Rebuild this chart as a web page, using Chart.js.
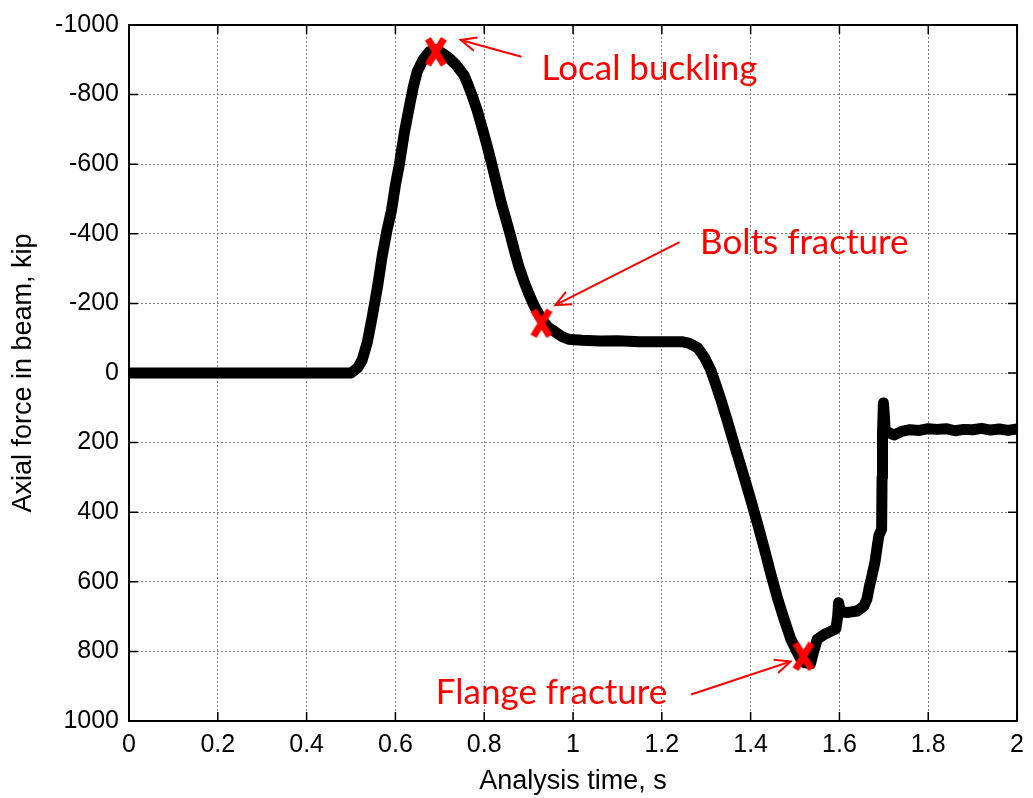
<!DOCTYPE html>
<html>
<head>
<meta charset="utf-8">
<title>Axial force in beam</title>
<script src="https://cdn.jsdelivr.net/npm/chart.js@4"></script>
<style>
  body { margin: 0; background: #fff; }
  canvas { display: block; }
</style>
</head>
<body>
<canvas id="chart" width="1033" height="798"></canvas>
<script>
// analysis time (s) and axial force (kip), compression negative
const times = [
  0, 0.5, 0.503, 0.515, 0.525, 0.537, 0.548, 0.56, 0.57, 0.581, 0.591, 0.6, 0.609, 0.62, 0.631, 0.64,
  0.649, 0.662, 0.676, 0.691, 0.705, 0.72, 0.737, 0.754, 0.763, 0.772, 0.784, 0.795, 0.806, 0.817,
  0.828, 0.839, 0.85, 0.86, 0.869, 0.878, 0.889, 0.9, 0.911, 0.922, 0.935, 0.945, 0.96, 0.975, 0.99,
  1.02, 1.06, 1.1, 1.15, 1.2, 1.245, 1.262, 1.281, 1.296, 1.31, 1.322, 1.333, 1.348, 1.364, 1.382,
  1.4, 1.416, 1.431, 1.446, 1.461, 1.476, 1.49, 1.502, 1.512, 1.523, 1.535, 1.542, 1.55, 1.565,
  1.579, 1.592, 1.596, 1.598, 1.602, 1.62, 1.64, 1.655, 1.662, 1.668, 1.672, 1.68, 1.686, 1.689,
  1.695, 1.696, 1.697, 1.699, 1.701, 1.703, 1.712, 1.723, 1.74, 1.759, 1.78, 1.8, 1.82, 1.84, 1.86,
  1.88, 1.9, 1.92, 1.94, 1.96, 1.98, 2
];
const forces = [
  0, 0, -3, -15, -37, -90, -163, -250, -334, -410, -466, -540, -600, -690, -763, -820,
  -866, -900, -923, -929, -920, -906, -885, -857, -830, -800, -755, -706, -655, -600,
  -543, -486, -437, -391, -346, -306, -265, -229, -197, -171, -145, -130, -118, -105, -97,
  -94, -92, -93, -90, -90, -90, -85, -72, -45, -9, 35, 77, 140, 209, 285,
  363, 435, 506, 580, 649, 710, 763, 795, 820, 833, 835, 800, 765, 752,
  743, 735, 700, 660, 686, 688, 684, 670, 649, 610, 590, 543, 490, 466,
  449, 300, 171, 86, 120, 163, 172, 178, 168, 163, 165, 160, 162, 160, 166,
  162, 163, 159, 164, 161, 165, 161
];

// failure events marked with a red X
const eventTimes = [0.691, 0.929, 1.519];
const eventForces = [-923, -143, 814];

const xTicks = [0, 0.2, 0.4, 0.6, 0.8, 1, 1.2, 1.4, 1.6, 1.8, 2];
const yTicks = [-1000, -800, -600, -400, -200, 0, 200, 400, 600, 800, 1000];

// callouts: label anchor, arrow tail and arrow tip, in data units
const notes = [
  { text: 'Local buckling', at: [0.929, -843], from: [0.884, -909], to: [0.747, -957] },
  { text: 'Bolts fracture', at: [1.286, -343], from: [1.240, -376], to: [0.960, -195] },
  { text: 'Flange fracture', at: [0.691, 951], from: [1.266, 924], to: [1.490, 829] }
];

const RED = '#ff0000';

// bold red X used as the point marker
const xMark = document.createElement('canvas');
xMark.width = 26;
xMark.height = 30;
(function () {
  const c = xMark.getContext('2d');
  c.strokeStyle = RED;
  c.lineWidth = 7;
  c.beginPath();
  c.moveTo(5, 2); c.lineTo(21, 28);
  c.moveTo(21, 2); c.lineTo(5, 28);
  c.stroke();
})();

// black box round the axes with inward ticks on all four sides
const axesBox = {
  id: 'axesBox',
  afterDatasetsDraw(chart) {
    const { ctx, chartArea: a, scales } = chart;
    const len = 9;
    ctx.save();
    ctx.strokeStyle = '#000';
    ctx.lineWidth = 1.5;
    ctx.beginPath();
    xTicks.forEach((v) => {
      const px = scales.x.getPixelForValue(v);
      ctx.moveTo(px, a.bottom); ctx.lineTo(px, a.bottom - len);
      ctx.moveTo(px, a.top); ctx.lineTo(px, a.top + len);
    });
    yTicks.forEach((v) => {
      const py = scales.y.getPixelForValue(v);
      ctx.moveTo(a.left, py); ctx.lineTo(a.left + len, py);
      ctx.moveTo(a.right, py); ctx.lineTo(a.right - len, py);
    });
    ctx.stroke();
    ctx.lineWidth = 2;
    ctx.strokeRect(a.left, a.top, a.right - a.left, a.bottom - a.top);
    ctx.restore();
  }
};

// red callout text with open arrowheads
const callouts = {
  id: 'callouts',
  afterDraw(chart) {
    const { ctx, scales } = chart;
    const px = (p) => [scales.x.getPixelForValue(p[0]), scales.y.getPixelForValue(p[1])];
    ctx.save();
    ctx.strokeStyle = RED;
    ctx.fillStyle = RED;
    ctx.lineWidth = 2;
    ctx.font = '35px Lato';
    ctx.textAlign = 'left';
    ctx.textBaseline = 'alphabetic';
    notes.forEach((n) => {
      const [tx, ty] = px(n.at);
      ctx.fillText(n.text, tx, ty);
      const [x0, y0] = px(n.from);
      const [x1, y1] = px(n.to);
      const ang = Math.atan2(y1 - y0, x1 - x0);
      const head = 17, spread = 0.42;
      ctx.beginPath();
      ctx.moveTo(x0, y0);
      ctx.lineTo(x1, y1);
      ctx.moveTo(x1 - head * Math.cos(ang - spread), y1 - head * Math.sin(ang - spread));
      ctx.lineTo(x1, y1);
      ctx.lineTo(x1 - head * Math.cos(ang + spread), y1 - head * Math.sin(ang + spread));
      ctx.stroke();
    });
    ctx.restore();
  }
};

const tickFont = { family: '"Liberation Sans", Arial, sans-serif', size: 25 };
const titleFont = { family: '"Liberation Sans", Arial, sans-serif', size: 27 };

new Chart(document.getElementById('chart'), {
  type: 'line',
  data: {
    datasets: [
      {
        label: 'events',
        data: eventTimes.map((t, i) => ({ x: t, y: eventForces[i] })),
        showLine: false,
        pointStyle: xMark,
        pointRadius: 12,
        clip: false,
        order: 0
      },
      {
        label: 'axial force',
        data: times.map((t, i) => ({ x: t, y: forces[i] })),
        borderColor: '#000',
        borderWidth: 11,
        borderCapStyle: 'round',
        borderJoinStyle: 'round',
        pointRadius: 0,
        tension: 0,
        clip: 0,
        order: 1
      }
    ]
  },
  options: {
    responsive: false,
    animation: false,
    events: [],
    layout: { padding: { top: 20, right: 11, left: 0, bottom: 0 } },
    plugins: { legend: { display: false }, tooltip: { enabled: false } },
    scales: {
      x: {
        type: 'linear',
        min: 0,
        max: 2,
        afterFit: (s) => { s.height = 77; },
        afterBuildTicks: (s) => { s.ticks = xTicks.map((v) => ({ value: v })); },
        ticks: { color: '#000', font: tickFont, padding: 9, maxRotation: 0, callback: (v) => String(v) },
        grid: { color: '#808080', lineWidth: 1, drawTicks: false },
        border: { display: false, dash: [2, 2] },
        title: { display: true, text: 'Analysis time, s', color: '#000', font: titleFont, padding: { top: 0, bottom: 0 } }
      },
      y: {
        type: 'linear',
        reverse: true,
        min: -1000,
        max: 1000,
        afterFit: (s) => { s.width = 129; },
        afterBuildTicks: (s) => { s.ticks = yTicks.map((v) => ({ value: v })); },
        ticks: { color: '#000', font: tickFont, padding: 10, callback: (v) => String(v) },
        grid: { color: '#808080', lineWidth: 1, drawTicks: false },
        border: { display: false, dash: [2, 2] },
        title: { display: true, text: 'Axial force in beam, kip', color: '#000', font: titleFont, padding: { top: 7, bottom: 0 } }
      }
    }
  },
  plugins: [axesBox, callouts]
});
</script>
</body>
</html>
